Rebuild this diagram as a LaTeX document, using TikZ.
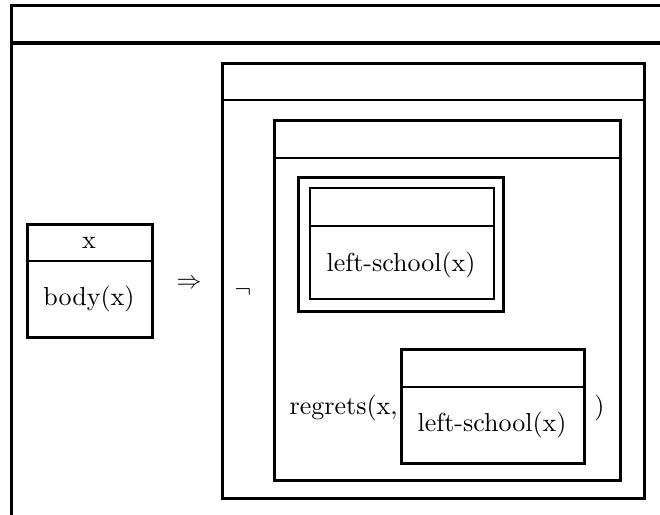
\documentclass[tikz,border=0pt]{standalone}
\usepackage{tikz}

\begin{document}
\begin{tikzpicture}[x=0.4pt,y=-0.4pt,font=\fontsize{10.4}{12.5}\selectfont,line width=1.1pt,
	drs/.style={draw,rectangle,inner sep=0pt,anchor=north west},
	heavy/.style={line width=1.3pt},
	thin/.style={line width=0.85pt}]
	
	\useasboundingbox (0,0) rectangle (660,514);
	\clip (0,0) rectangle (660,514);
	
	% outer box, runs off the page
	\node[drs,heavy,minimum width=300pt,minimum height=260pt] (outer) at (10,4) {};
	\draw[heavy] ([yshift=-15.6pt]outer.north west) -- ([yshift=-15.6pt]outer.north east);
	
	% antecedent
	\node[drs,minimum width=50pt,minimum height=45.2pt] (ante) at (26,223) {};
	\draw ([yshift=-15.2pt]ante.north west) -- ([yshift=-15.2pt]ante.north east);
	\node (x) at (89,243) {x};
	\node (body) at (89,299) {body(x)};
	
	\node (imp) at (189,284) {$\Rightarrow$};
	
	% consequent
	\node[drs,minimum width=168.8pt,minimum height=174pt] (cons) at (221,62) {};
	\draw ([yshift=-15.2pt]cons.north west) -- ([yshift=-15.2pt]cons.north east);
	\node (neg) at (243,292) {$\neg$};
	
	\node[drs,minimum width=138.4pt,minimum height=144pt] (negbox) at (273,119) {};
	\draw ([yshift=-15.6pt]negbox.north west) -- ([yshift=-15.6pt]negbox.north east);
	
	% double framed box
	\node[drs,heavy,minimum width=82pt,minimum height=53.6pt] (dbl) at (297,176) {};
	\node[drs,thin,minimum width=73.6pt,minimum height=44.4pt] (dblin) at (309,187) {};
	\draw[thin] ([yshift=-15.6pt]dblin.north west) -- ([yshift=-15.6pt]dblin.north east);
	\node (left1) at (401,265) {left-school(x)};
	
	% regrets
	\node[drs,minimum width=73.2pt,minimum height=45.6pt] (regbox) at (400,348) {};
	\draw ([yshift=-15.6pt]regbox.north west) -- ([yshift=-15.6pt]regbox.north east);
	\node[anchor=base east,inner sep=0pt] (reg) at ([xshift=-0.4pt]regbox.west |- 0,414) {regrets(x,};
	\node (left2) at (492,425) {left-school(x)};
	\node[anchor=base west,inner sep=0pt] (close) at (593,414) {)};
	
\end{tikzpicture}
\end{document}
